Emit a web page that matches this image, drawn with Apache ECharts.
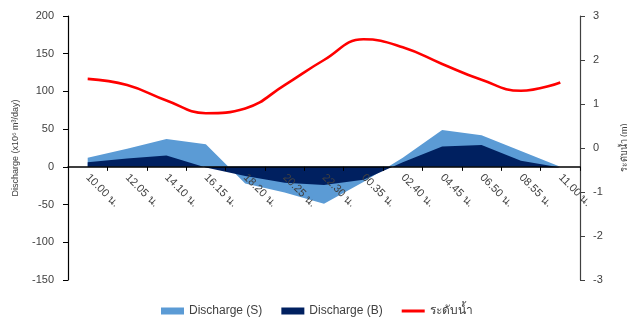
<!DOCTYPE html>
<html>
<head>
<meta charset="utf-8">
<script src="https://cdn.jsdelivr.net/npm/echarts@6/dist/echarts.min.js"></script>
<style>
  html, body { margin: 0; padding: 0; background: #fff; }
  #chart { width: 627px; height: 322px; }
</style>
</head>
<body>
<div id="chart"></div>
<script>
// Time of each reading (Thai time notation)
const categories = ['10.00 น.', '12.05 น.', '14.10 น.', '16.15 น.', '18.20 น.', '20.25 น.', '22.30 น.',
                    '00.35 น.', '02.40 น.', '04.45 น.', '06.50 น.', '08.55 น.', '11.00 น.'];

// Discharge, x10^6 m3/day
const dischargeS = [12, 24, 37, 30, -22, -34, -49, -20, 12, 49, 42, 21, 0];
const dischargeB = [6, 11, 15, -1, -12, -21, -24, -17, 6, 27, 29, 8, -1];

// Water level, m
const waterLevel = [1.57, 1.43, 1.08, 0.79, 0.90, 1.43, 2.00, 2.47, 2.29, 1.91, 1.55, 1.30, 1.49];

const FONT = '"Liberation Sans", Arial, "Noto Sans", sans-serif';
const TXT = '#404040';

const GRID = { left: 68, right: 47, top: 16, bottom: 42, outerBoundsMode: 'none', containLabel: false };
const Y_MIN = -150, Y_MAX = 200;
// distance from the bottom of the plot up to the zero line of the discharge axis
const plotH = 322 - GRID.top - GRID.bottom;
const zeroOffset = plotH * (0 - Y_MIN) / (Y_MAX - Y_MIN);

const chart = echarts.init(document.getElementById('chart'), null, { renderer: 'canvas' });

chart.setOption({
  animation: false,
  backgroundColor: '#fff',
  textStyle: { fontFamily: FONT },
  grid: GRID,
  legend: {
    left: 156,
    top: 300,
    itemWidth: 23,
    itemHeight: 7,
    itemGap: 19,
    textStyle: { fontSize: 12, color: TXT, fontFamily: FONT },
    data: [
      { name: 'Discharge (S)', icon: 'rect' },
      { name: 'Discharge (B)', icon: 'rect' },
      { name: 'ระดับน้ำ', icon: 'path://M0,0H23V3H0Z' }
    ]
  },
  xAxis: {
    type: 'category',
    data: categories,
    boundaryGap: true,
    z: 10,
    offset: -zeroOffset,
    axisLine: { onZero: false, lineStyle: { color: '#000', width: 1.5 } },
    axisTick: { show: true, length: 4, lineStyle: { color: '#000' } },
    axisLabel: { rotate: -45, interval: 0, margin: 9, fontSize: 11, color: TXT, fontFamily: FONT },
    splitLine: { show: false }
  },
  yAxis: [
    {
      type: 'value',
      min: Y_MIN, max: Y_MAX, interval: 50,
      name: 'Discharge (x10⁶ m³/day)',
      nameLocation: 'middle',
      nameRotate: 90,
      nameGap: 48,
      nameTextStyle: { fontSize: 9, color: TXT, fontFamily: FONT },
      axisLine: { show: true, lineStyle: { color: '#000', width: 1.2 } },
      axisTick: { show: true, length: 5, lineStyle: { color: '#000' } },
      axisLabel: { margin: 14, fontSize: 11, color: TXT, fontFamily: FONT },
      splitLine: { show: false }
    },
    {
      type: 'value',
      position: 'right',
      min: -3, max: 3, interval: 1,
      name: 'ระดับน้ำ (m)',
      nameLocation: 'middle',
      nameRotate: 90,
      nameGap: 40,
      nameTextStyle: { fontSize: 9, color: TXT, fontFamily: FONT },
      axisLine: { show: true, lineStyle: { color: '#404040', width: 1.2 } },
      axisTick: { show: true, length: 5, lineStyle: { color: '#404040' } },
      axisLabel: { margin: 13, fontSize: 11, color: TXT, fontFamily: FONT },
      splitLine: { show: false }
    }
  ],
  series: [
    {
      name: 'Discharge (S)',
      type: 'line',
      data: dischargeS,
      symbol: 'none',
      itemStyle: { color: '#5B9BD5' },
      lineStyle: { width: 0, color: '#5B9BD5' },
      areaStyle: { color: '#5B9BD5', opacity: 1, origin: 0 },
      z: 2
    },
    {
      name: 'Discharge (B)',
      type: 'line',
      data: dischargeB,
      symbol: 'none',
      itemStyle: { color: '#002060' },
      lineStyle: { width: 0, color: '#002060' },
      areaStyle: { color: '#002060', opacity: 1, origin: 0 },
      z: 3
    },
    {
      name: 'ระดับน้ำ',
      type: 'line',
      yAxisIndex: 1,
      data: waterLevel,
      symbol: 'none',
      smooth: 0.45,
      itemStyle: { color: '#FF0000' },
      lineStyle: { width: 2.6, color: '#FF0000' },
      z: 4
    }
  ]
});
</script>
</body>
</html>
